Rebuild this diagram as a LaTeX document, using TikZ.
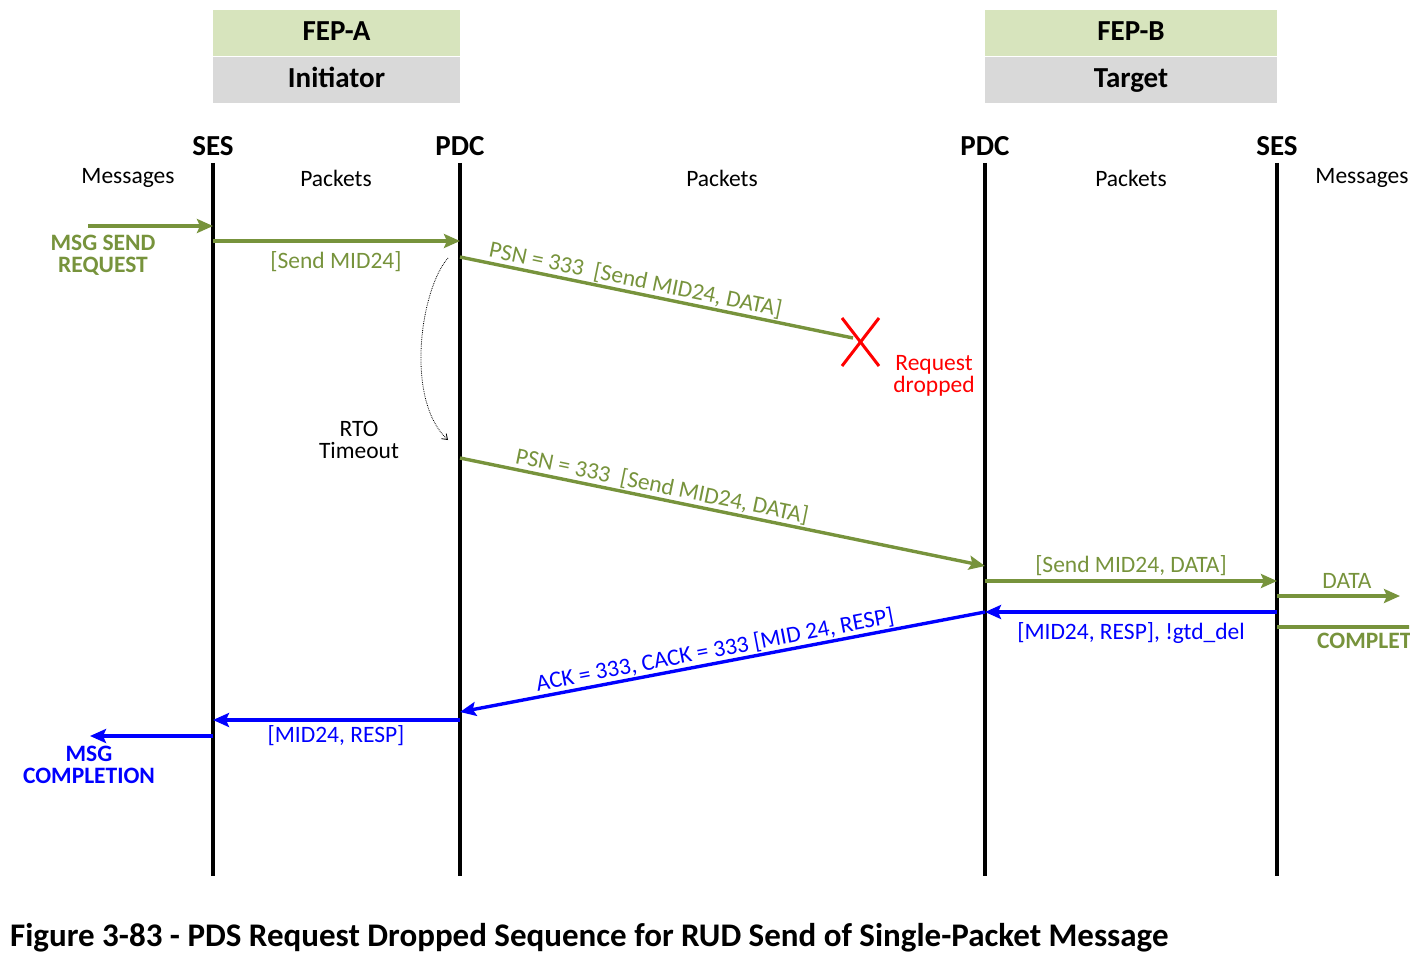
\documentclass[tikz,border=0pt]{standalone}
\usepackage{fontspec}
\setmainfont{Carlito}
\usetikzlibrary{arrows.meta,positioning}

\definecolor{fepgreen}{HTML}{77933C}
\definecolor{boxgreen}{HTML}{D7E4BD}
\definecolor{boxgray}{HTML}{D9D9D9}
\newcommand{\lblfont}{\fontsize{23.5}{22}\selectfont}
\newcommand{\hdrfont}{\fontsize{29}{30}\selectfont\bfseries}
\newcommand{\capfont}{\fontsize{33}{34}\selectfont\bfseries}

\tikzset{
  lifeline/.style={line width=3.2pt},
  rolebox/.style={minimum width=247pt, minimum height=46pt, inner sep=0pt, text height=21pt, text depth=6pt, font=\hdrfont},
  lifehead/.style={font=\hdrfont, inner sep=1pt},
  lane/.style={font=\lblfont, inner sep=1pt},
  gmsg/.style={draw=fepgreen, line width=3.4pt, -{Stealth[length=16pt,width=14pt,inset=3pt]}},
  bmsg/.style={draw=blue, line width=3.4pt, -{Stealth[length=16pt,width=14pt,inset=3pt]}},
  glbl/.style={text=fepgreen, font=\lblfont, inner sep=1pt},
  blbl/.style={text=blue, font=\lblfont, inner sep=1pt},
}

\begin{document}
\begin{tikzpicture}[x=1pt,y=-1pt]
\useasboundingbox (0,0) rectangle (1425,971);

% endpoints
\node[rolebox, fill=boxgreen, anchor=north] (fepA) at (336.5,10) {FEP-A};
\node[rolebox, fill=boxgray, below=0pt of fepA] (roleA) {Initiator};
\node[rolebox, fill=boxgreen, anchor=north, minimum width=292pt] (fepB) at (1131,10) {FEP-B};
\node[rolebox, fill=boxgray, below=0pt of fepB, minimum width=292pt] (roleB) {Target};

% lifelines
\node[lifehead] (sesA) at (213,146) {SES};
\node[lifehead] (pdcA) at (460,146) {PDC};
\node[lifehead] (pdcB) at (985,146) {PDC};
\node[lifehead] (sesB) at (1277,146) {SES};
\coordinate (sesAtop) at (213,163);
\coordinate (pdcAtop) at (460,163);
\coordinate (pdcBtop) at (985,163);
\coordinate (sesBtop) at (1277,163);
\coordinate (sesAbot) at (213,876);
\coordinate (pdcAbot) at (460,876);
\coordinate (pdcBbot) at (985,876);
\coordinate (sesBbot) at (1277,876);
\draw[lifeline] (sesAtop) -- (sesAbot);
\draw[lifeline] (pdcAtop) -- (pdcAbot);
\draw[lifeline] (pdcBtop) -- (pdcBbot);
\draw[lifeline] (sesBtop) -- (sesBbot);

\node[lane] (laneMsgA) at (128,178) {Messages};
\node[lane] (lanePktA) at (336,178) {Packets};
\node[lane] (lanePktM) at (722,178) {Packets};
\node[lane] (lanePktB) at (1131,178) {Packets};
\node[lane] (laneMsgB) at (1362,178) {Messages};

% request
\coordinate (reqIn) at (88,226);
\coordinate (reqSes) at (213,226);
\draw[gmsg] (reqIn) -- (reqSes);
\node[glbl, font=\lblfont\bfseries, align=center] (reqLbl) at (103,255) {MSG SEND\\REQUEST};

\coordinate (sendA1) at (213,241);
\coordinate (sendA2) at (460,241);
\draw[gmsg] (sendA1) -- (sendA2);
\node[glbl] (sendLbl) at (336,262) {[Send MID24]};

% first try, dropped
\coordinate (psn1a) at (460,257);
\coordinate (psn1b) at (853,338);
\draw[draw=fepgreen, line width=3.4pt] (psn1a) -- node[glbl, sloped, above, pos=0.44] (psn1Lbl) {PSN = 333\ \ [Send MID24, DATA]} (psn1b);
\coordinate (dropC) at (860,342);
\draw[red, line width=3pt] (842,318) -- (879,366);
\draw[red, line width=3pt] (879,318) -- (842,366);
\node[text=red, font=\lblfont, align=center, inner sep=0pt] (dropLbl) at (934,376) {Request\\dropped};

% timeout
\coordinate (rtoA) at (448,258);
\coordinate (rtoB) at (448,440);
\draw[densely dotted, line width=0.8pt, -{Straight Barb[length=5pt,width=7pt]}] (rtoA) .. controls (420,290) and (405,400) .. (rtoB);
\node[lane, align=center] (rtoLbl) at (359,440) {RTO\\Timeout};

% retry
\coordinate (psn2a) at (460,458);
\coordinate (psn2b) at (985,566);
\draw[gmsg] (psn2a) -- node[glbl, sloped, above, pos=0.38] (psn2Lbl) {PSN = 333\ \ [Send MID24, DATA]} (psn2b);

\coordinate (sendB1) at (985,581);
\coordinate (sendB2) at (1277,581);
\draw[gmsg] (sendB1) -- (sendB2);
\node[glbl] (sendBLbl) at (1131,566) {[Send MID24, DATA]};

\coordinate (dataA) at (1277,596);
\coordinate (dataB) at (1400,596);
\draw[gmsg] (dataA) -- (dataB);
\node[glbl] (dataLbl) at (1347,581) {DATA};

\begin{scope}
\clip (0,0) rectangle (1409,971);
\coordinate (complA) at (1277,627);
\coordinate (complB) at (1420,627);
\draw[draw=fepgreen, line width=3.4pt] (complA) -- (complB);
\node[glbl, font=\lblfont\bfseries, anchor=west] (complLbl) at (1316,641) {COMPLETION};
\end{scope}

% response
\coordinate (respB1) at (1277,612);
\coordinate (respB2) at (985,612);
\draw[bmsg] (respB1) -- (respB2);
\node[blbl] (respBLbl) at (1131,633) {[MID24, RESP], !gtd\_del};

\coordinate (ackA) at (985,612);
\coordinate (ackB) at (460,712);
\draw[bmsg] (ackA) -- node[blbl, sloped, above, pos=0.51] (ackLbl) {ACK = 333, CACK = 333 [MID 24, RESP]} (ackB);

\coordinate (respA1) at (460,720);
\coordinate (respA2) at (213,720);
\draw[bmsg] (respA1) -- (respA2);
\node[blbl] (respALbl) at (336,736) {[MID24, RESP]};

\coordinate (complSes) at (213,736);
\coordinate (complOut) at (90,736);
\draw[bmsg] (complSes) -- (complOut);
\node[blbl, font=\lblfont\bfseries, align=center] (msgComplLbl) at (89,765) {MSG\\COMPLETION};

\node[font=\capfont, anchor=west, inner sep=0pt] (caption) at (10,938) {Figure 3-83 - PDS Request Dropped Sequence for RUD Send of Single-Packet Message};
\end{tikzpicture}
\end{document}
